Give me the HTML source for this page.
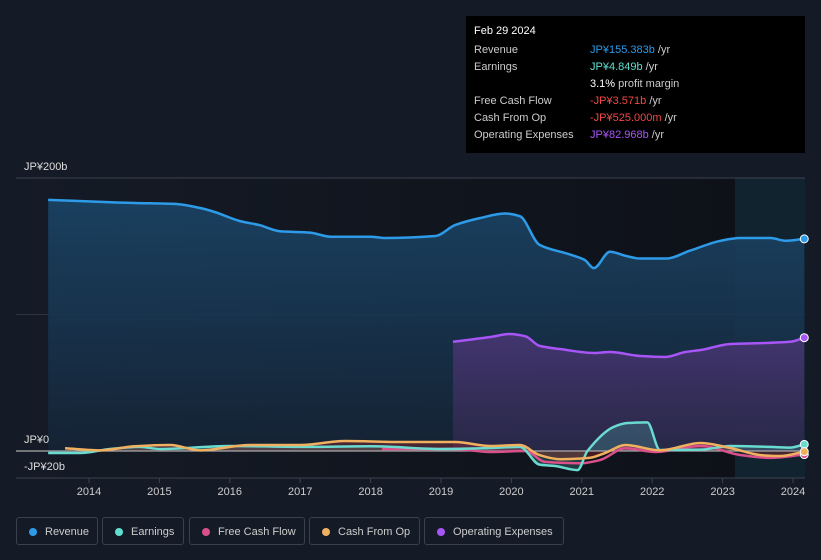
<!DOCTYPE html>
<html><head><meta charset="utf-8"><style>
body{margin:0;background:#151b26;width:821px;height:560px;overflow:hidden;font-family:"Liberation Sans",sans-serif;position:relative}
.tt{position:absolute;left:466px;top:16px;width:339px;height:137px;background:#000;color:#ccc;font-size:11px}
.tt .r{position:absolute;left:8px}
.tt .v{position:absolute;left:124px}
.lg{position:absolute;top:517px;height:28px;border:1px solid #3a414d;border-radius:3px;color:#ccc;font-size:11px;line-height:28px;box-sizing:border-box;padding-left:28px}
.lg i{position:absolute;left:12px;top:10px;width:8px;height:8px;border-radius:50%}
</style></head><body>
<svg id="c" width="821" height="510" style="position:absolute;left:0;top:0"></svg>
<div class="tt">
<div class="r" style="top:9px;color:#fff">Feb 29 2024</div>
<div class="r" style="top:28px">Revenue</div><div class="v" style="top:28px;color:#2d9be8">JP¥155.383b <span style="color:#ccc">/yr</span></div>
<div class="r" style="top:45px">Earnings</div><div class="v" style="top:45px;color:#5ee0d0">JP¥4.849b <span style="color:#ccc">/yr</span></div>
<div class="v" style="top:62px;color:#fff">3.1% <span style="color:#ccc">profit margin</span></div>
<div class="r" style="top:79px">Free Cash Flow</div><div class="v" style="top:79px;color:#f04848">-JP¥3.571b <span style="color:#ccc">/yr</span></div>
<div class="r" style="top:96px">Cash From Op</div><div class="v" style="top:96px;color:#f04848">-JP¥525.000m <span style="color:#ccc">/yr</span></div>
<div class="r" style="top:113px">Operating Expenses</div><div class="v" style="top:113px;color:#a855f7">JP¥82.968b <span style="color:#ccc">/yr</span></div>
</div>
<div class="lg" style="left:16px;width:82px"><i style="background:#2d9be8"></i>Revenue</div>
<div class="lg" style="left:102px;width:82px"><i style="background:#5ee0d0"></i>Earnings</div>
<div class="lg" style="left:189px;width:116px"><i style="background:#d9508a"></i>Free Cash Flow</div>
<div class="lg" style="left:309px;width:111px"><i style="background:#f0b060"></i>Cash From Op</div>
<div class="lg" style="left:424px;width:140px"><i style="background:#a855f7"></i>Operating Expenses</div>
<script>
const revT=[2013.42,2014.44,2014.65,2015.22,2015.58,2015.79,2016.14,2016.42,2016.71,2017.14,2017.43,2018.0,2018.21,2018.92,2019.2,2019.55,2019.91,2020.12,2020.4,2020.83,2021.04,2021.17,2021.4,2021.62,2021.83,2022.19,2022.55,2022.97,2023.25,2023.68,2023.9,2024.16];
const revV=[184,182,181.7,181,178,175,168.5,165.5,161,160,157,157,156,157.5,165.5,170.6,174,172,151,144,140,134,146,143,141,141,147,154,156,156,154,155.4];
const opxT=[2019.17,2019.7,2019.98,2020.2,2020.4,2020.69,2021.18,2021.4,2021.83,2022.19,2022.47,2022.69,2023.11,2023.54,2023.96,2024.16];
const opxV=[80,83.5,85.7,84,77,74.7,71.8,72.5,69.6,68.9,72.5,74,78.4,79,80,83];
const earT=[2013.42,2013.87,2014.3,2014.72,2015.01,2016.0,2017.0,2018.0,2019.0,2019.6,2020.12,2020.4,2020.62,2020.94,2021.08,2021.45,2021.65,2021.93,2022.11,2022.69,2023.11,2023.68,2023.96,2024.16];
const earV=[-1.5,-1.5,1.5,3,1.5,3.7,3,3.5,1.5,2,3,-10,-11,-14,0,17.6,20.5,21,0.7,1,3.7,3,2.5,4.85];
const cfoT=[2013.66,2014.16,2014.65,2015.15,2015.58,2016.29,2017.0,2017.64,2018.42,2019.2,2019.7,2020.12,2020.4,2020.69,2021.11,2021.33,2021.62,2022.11,2022.69,2023.11,2023.54,2023.82,2024.16];
const cfoV=[2,0.5,3.5,4.4,0.5,4.4,4.4,7.3,6.6,6.6,3.7,4.4,-3,-6,-5,-1.5,4.4,0.5,5.9,2.2,-3,-3.7,-0.5];
const fcfT=[2018.16,2019.2,2019.7,2020.2,2020.48,2020.98,2021.26,2021.62,2022.05,2022.69,2023.25,2023.68,2024.16];
const fcfV=[1.5,1.5,-0.7,0,-8,-9,-6.6,2,-0.7,3.7,-2.9,-5,-2.6];
const yTicks=[200,0,-20],yLab=["JP¥200b","JP¥0","-JP¥20b"];
const xTicks=[2014,2015,2016,2017,2018,2019,2020,2021,2022,2023,2024];
const X=t=>89+(t-2014)*70.4, Y=v=>451-v*1.365;
const svg=document.getElementById('c'),NS='http://www.w3.org/2000/svg';
function mk(tag,a,name){const e=document.createElementNS(NS,tag);for(const k in a)e.setAttribute(k,a[k]);


svg.appendChild(e);return e;}
function pts(T,V){return T.map((t,i)=>[X(t),Y(V[i])]);}
function path(p){const n=p.length,d=[],m=[];
for(let i=0;i<n-1;i++)d.push((p[i+1][1]-p[i][1])/(p[i+1][0]-p[i][0]));
for(let i=0;i<n;i++){if(i==0)m.push(d[0]);else if(i==n-1)m.push(d[n-2]);else m.push(d[i-1]*d[i]<=0?0:2/(1/d[i-1]+1/d[i]));}
let s='M'+p[0][0]+','+p[0][1];
for(let i=0;i<n-1;i++){const h=(p[i+1][0]-p[i][0])/3;
s+=' C'+(p[i][0]+h)+','+(p[i][1]+m[i]*h)+' '+(p[i+1][0]-h)+','+(p[i+1][1]-m[i+1]*h)+' '+p[i+1][0]+','+p[i+1][1];}
return s;}
const defs=mk('defs',{},'defs');
defs.innerHTML='<linearGradient id="bg" x1="0" x2="1"><stop offset="0" stop-color="#151b26"/><stop offset="1" stop-color="#0d1017"/></linearGradient><linearGradient id="rv" x1="0" y1="0" x2="0" y2="1"><stop offset="0" stop-color="#1a4466"/><stop offset="1" stop-color="#152335"/></linearGradient><linearGradient id="ox" x1="0" y1="0" x2="0" y2="1"><stop offset="0" stop-color="#473673"/><stop offset="1" stop-color="#2a2848"/></linearGradient>';
mk('rect',{x:16,y:178,width:789,height:300,fill:'url(#bg)'},'plot-background');
mk('rect',{x:735,y:178,width:70,height:300,fill:'#14303f',opacity:0.6},'forecast-region');
mk('line',{x1:16,x2:805,y1:Y(200),y2:Y(200),stroke:'#3a414d'},'gridline-top');
mk('line',{x1:16,x2:805,y1:Y(100),y2:Y(100),stroke:'#2d3440'},'gridline-mid');
mk('line',{x1:16,x2:805,y1:478,y2:478,stroke:'#3a414d'},'gridline-bottom');
function area(T,V,fill,name,op){const p=pts(T,V);mk('path',{d:path(p)+' L'+p[p.length-1][0]+','+Y(0)+' L'+p[0][0]+','+Y(0)+'Z',fill:fill,opacity:op||1},name);}
area(revT,revV,'url(#rv)','revenue-area',0.9);
area(opxT,opxV,'url(#ox)','opex-area',0.9);
area(earT,earV,'#5ee0d0','earnings-area',0.2);
area(cfoT,cfoV,'#c03030','cfo-area',0.3);
mk('line',{x1:16,x2:805,y1:Y(0),y2:Y(0),stroke:'#aaa','stroke-width':1.2},'zero-line');
function line(T,V,c,name){mk('path',{d:path(pts(T,V)),fill:'none',stroke:c,'stroke-width':2.5},name+'-line');
mk('circle',{cx:X(T[T.length-1]),cy:Y(V[V.length-1]),r:4,fill:c,stroke:'#fff','stroke-width':1},name+'-end-dot');}
line(revT,revV,'#2d9be8','revenue');line(opxT,opxV,'#a855f7','opex');
line(fcfT,fcfV,'#d9508a','fcf');line(earT,earV,'#6adbd0','earnings');line(cfoT,cfoV,'#f0b060','cfo');
yTicks.forEach((v,i)=>{const t=mk('text',{x:24,y:v<0?Y(0)+19:Y(v)-8,fill:'#ddd','font-size':11},'y-tick-label');t.textContent=yLab[i];});
xTicks.forEach(v=>{mk('line',{x1:X(v),x2:X(v),y1:478,y2:483,stroke:'#3a414d'},'x-tick');
const t=mk('text',{x:X(v),y:495,fill:'#ccc','font-size':11,'text-anchor':'middle'},'x-tick-label');t.textContent=v;});
</script>
</body></html>
